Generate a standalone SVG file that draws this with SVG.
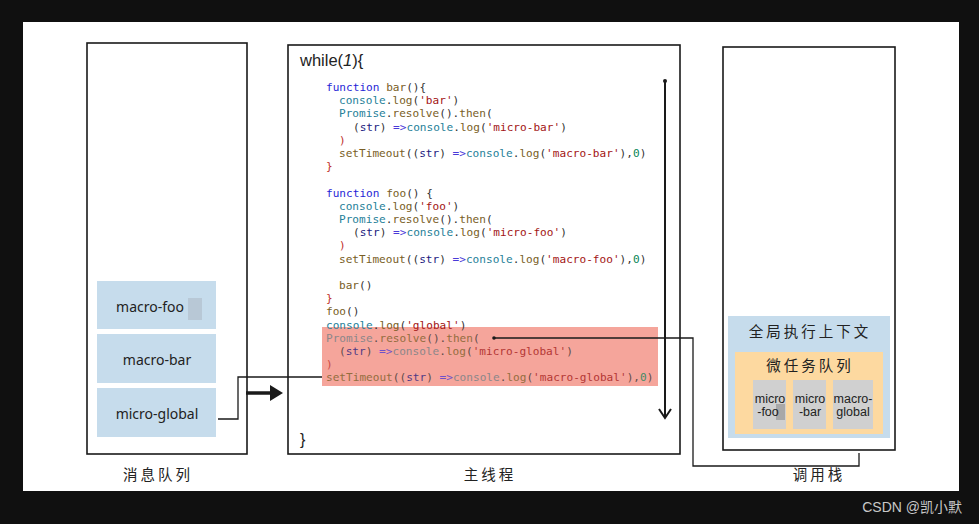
<svg xmlns="http://www.w3.org/2000/svg" width="979" height="524" viewBox="0 0 979 524">
<defs>
<style>
.box{fill:#fff;stroke:#1a1a1a;stroke-width:1.6}
.q{fill:#c6dcec}
.hw{font-family:"Noto Sans","Open Sans",sans-serif;font-size:14px;fill:#222;text-anchor:middle}
.zh{font-family:"Noto Sans CJK SC",sans-serif;font-size:14.5px;fill:#222;text-anchor:middle;letter-spacing:3px}
.code{font-family:"DejaVu Sans Mono",monospace;font-size:11.1px;fill:#333}
.kw{fill:#1f1fd6}.fn{fill:#795e26}.st{fill:#a31515}.nu{fill:#098658}.cl{fill:#267f99}.va{fill:#1b1b80}.ar{fill:#4a3ad8}.br{fill:#c0302a}
.cell{fill:#d0d0d0}
.ct{font-family:"Liberation Sans",Arial,sans-serif;font-size:12.5px;fill:#222;text-anchor:middle}
.ln{fill:none;stroke:#1a1a1a;stroke-width:1.3}
.hl{opacity:0.78}
</style>
</defs>
<rect x="0" y="0" width="979" height="524" fill="#101010"/>
<rect x="23" y="22" width="936" height="469" fill="#fff"/>

<g id="node-message-queue">
<rect class="box" x="87" y="43" width="160" height="411"/>
<rect class="q" x="97" y="281" width="119" height="48"/>
<rect x="188" y="298" width="14" height="22" fill="#b8c8d6"/>
<text class="hw" x="150" y="312">macro-foo</text>
<rect class="q" x="97" y="334" width="119" height="49"/>
<text class="hw" x="157" y="365">macro-bar</text>
<rect class="q" x="97" y="388" width="119" height="49"/>
<text class="hw" x="157" y="419">micro-global</text>
<text class="zh" x="158" y="480">消息队列</text>
</g>

<g id="node-main-thread">
<rect class="box" x="288" y="45" width="392" height="409"/>
<text x="300" y="66" font-family="'Liberation Sans',Arial,sans-serif" font-size="16.5" fill="#222">while(<tspan font-style="italic">1</tspan>){</text>
<rect x="322" y="327" width="336" height="59" fill="#f5a59b"/>
<g class="code" xml:space="preserve">
<text x="326" y="91"><tspan class="kw">function</tspan> <tspan class="fn">bar</tspan>(){</text>
<text x="339" y="104.2"><tspan class="cl">console</tspan>.<tspan class="fn">log</tspan>(<tspan class="st">'bar'</tspan>)</text>
<text x="339" y="117.4"><tspan class="cl">Promise</tspan>.<tspan class="fn">resolve</tspan>().<tspan class="fn">then</tspan>(</text>
<text x="353" y="130.6">(<tspan class="va">str</tspan>) <tspan class="ar">=&gt;</tspan><tspan class="cl">console</tspan>.<tspan class="fn">log</tspan>(<tspan class="st">'micro-bar'</tspan>)</text>
<text x="339" y="143.8" class="br">)</text>
<text x="339" y="157"><tspan class="fn">setTimeout</tspan>((<tspan class="va">str</tspan>) <tspan class="ar">=&gt;</tspan><tspan class="cl">console</tspan>.<tspan class="fn">log</tspan>(<tspan class="st">'macro-bar'</tspan>),<tspan class="nu">0</tspan>)</text>
<text x="326" y="170.2" class="br">}</text>
<text x="326" y="196.6"><tspan class="kw">function</tspan> <tspan class="fn">foo</tspan>() {</text>
<text x="339" y="209.8"><tspan class="cl">console</tspan>.<tspan class="fn">log</tspan>(<tspan class="st">'foo'</tspan>)</text>
<text x="339" y="223"><tspan class="cl">Promise</tspan>.<tspan class="fn">resolve</tspan>().<tspan class="fn">then</tspan>(</text>
<text x="353" y="236.2">(<tspan class="va">str</tspan>) <tspan class="ar">=&gt;</tspan><tspan class="cl">console</tspan>.<tspan class="fn">log</tspan>(<tspan class="st">'micro-foo'</tspan>)</text>
<text x="339" y="249.4" class="br">)</text>
<text x="339" y="262.6"><tspan class="fn">setTimeout</tspan>((<tspan class="va">str</tspan>) <tspan class="ar">=&gt;</tspan><tspan class="cl">console</tspan>.<tspan class="fn">log</tspan>(<tspan class="st">'macro-foo'</tspan>),<tspan class="nu">0</tspan>)</text>
<text x="339" y="289"><tspan class="fn">bar</tspan>()</text>
<text x="326" y="302.2" class="br">}</text>
<text x="326" y="315.4"><tspan class="fn">foo</tspan>()</text>
<text x="326" y="328.6"><tspan class="cl">console</tspan>.<tspan class="fn">log</tspan>(<tspan class="st">'global'</tspan>)</text>
<text class="hl" x="326" y="341.8"><tspan fill="#6e7f86">Promise</tspan>.<tspan class="fn">resolve</tspan>().<tspan class="fn">then</tspan>(</text>
<text class="hl" x="339" y="355">(<tspan class="va">str</tspan>) <tspan class="ar">=&gt;</tspan><tspan fill="#6e7f86">console</tspan>.<tspan class="fn">log</tspan>(<tspan class="st">'micro-global'</tspan>)</text>
<text class="hl br" x="326" y="368.2">)</text>
<text class="hl" x="326" y="381.4"><tspan class="fn">setTimeout</tspan>((<tspan class="va">str</tspan>) <tspan class="ar">=&gt;</tspan><tspan fill="#6e7f86">console</tspan>.<tspan class="fn">log</tspan>(<tspan class="st">'macro-global'</tspan>),<tspan class="nu">0</tspan>)</text>
</g>
<text x="300" y="445" font-family="'Liberation Sans',Arial,sans-serif" font-size="16" fill="#222">}</text>
<line x1="665" y1="81" x2="665" y2="417" stroke="#1a1a1a" stroke-width="2"/>
<circle cx="665" cy="81" r="2" fill="#1a1a1a"/>
<polyline points="659,409 665,418 671,409" fill="none" stroke="#1a1a1a" stroke-width="2"/>
<text class="zh" x="490" y="480">主线程</text>
</g>

<g id="node-call-stack">
<rect class="box" x="723" y="47" width="172" height="403"/>
<rect class="q" x="728" y="316" width="162" height="122"/>
<text class="zh" x="810" y="337">全局执行上下文</text>
<rect x="735" y="352" width="148" height="82" fill="#fdd9a0"/>
<text class="zh" x="810" y="371">微任务队列</text>
<rect class="cell" x="753" y="380" width="33" height="49"/>
<rect x="776" y="404" width="9" height="16" fill="#a8a8a8"/>
<text class="ct" x="770" y="403">micro</text>
<text class="ct" x="768" y="416">-foo</text>
<rect class="cell" x="793" y="380" width="33" height="49"/>
<text class="ct" x="810" y="403">micro</text>
<text class="ct" x="810" y="416">-bar</text>
<rect class="cell" x="833" y="380" width="40" height="49"/>
<text class="ct" x="853" y="403">macro-</text>
<text class="ct" x="853" y="416">global</text>
<text class="zh" x="819" y="480">调用栈</text>
</g>

<g id="connectors">
<polyline class="ln" points="218,419 238,419 238,377 322,377"/>
<line x1="246" y1="393" x2="272" y2="393" stroke="#1a1a1a" stroke-width="3.5"/>
<polygon points="270,385 283,393 270,401" fill="#1a1a1a"/>
<polyline class="ln" points="494,338 693,338 693,466 859,466 859,453"/>
<circle cx="494" cy="338" r="1.8" fill="#1a1a1a"/>
</g>

<text x="962" y="512" text-anchor="end" font-family="'Liberation Sans','Noto Sans CJK SC',sans-serif" font-size="14" fill="#c8c8c8">CSDN @凯小默</text>
</svg>
